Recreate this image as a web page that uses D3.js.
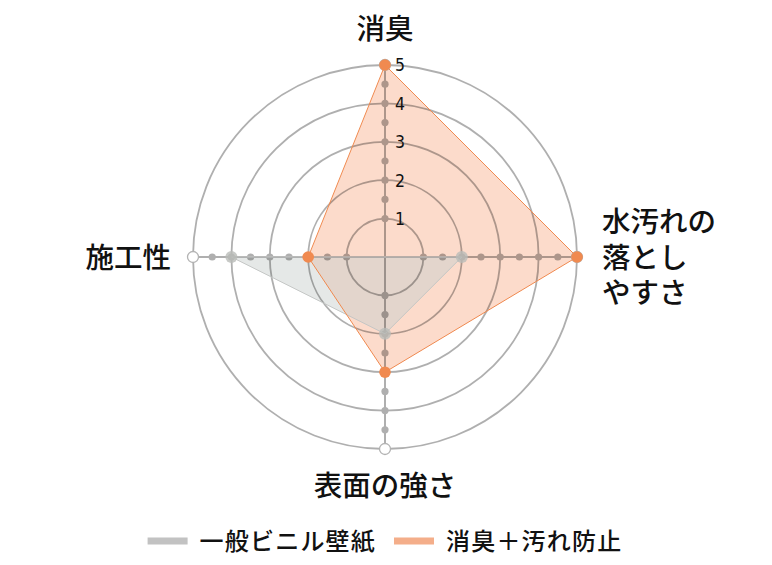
<!DOCTYPE html>
<html><head><meta charset="utf-8">
<script src="https://cdn.jsdelivr.net/npm/d3@7"></script>
<style>
html,body{margin:0;padding:0;background:#fff;}
text{font-family:"Noto Sans CJK JP","Noto Sans",sans-serif;}
</style></head>
<body>
<svg id="chart" width="772" height="565"></svg>
<script>
// ---- data ----
const axisNames = ["消臭", "水汚れの落としやすさ", "表面の強さ", "施工性"];
const axisLabelLines = [["消臭"], ["水汚れの", "落とし", "やすさ"], ["表面の強さ"], ["施工性"]];
const seriesNames = ["一般ビニル壁紙", "消臭＋汚れ防止"];
const vinylValues = [0, 2, 2, 4];
const deodorantValues = [5, 5, 3, 2];
const tickValues = [1, 2, 3, 4, 5];
const tickLabels = ["1", "2", "3", "4", "5"];
const maxValue = 5;

// ---- layout ----
const svg = d3.select("#chart");
const cx = 385, cy = 257, R = 192;
const r = d3.scaleLinear().domain([0, maxValue]).range([0, R]);
const angle = d3.scaleLinear().domain([0, axisNames.length]).range([0, 2 * Math.PI]);
const pt = (i, v) => [cx + r(v) * Math.sin(angle(i)), cy - r(v) * Math.cos(angle(i))];

const colors = {
  vinylFill: "#c9cfcc", vinylStroke: "#c4c6c5", vinylMarker: "#b9bbb8", vinylLegend: "#c2c2c2",
  deoFill: "#f7a47c", deoStroke: "#f08a50", deoMarker: "#f08a50", deoLegend: "#f4ae8a"
};

const line = d3.line().curve(d3.curveLinearClosed);

const series = [
  {name: seriesNames[0], values: vinylValues, fill: colors.vinylFill, fo: 0.48, stroke: colors.vinylStroke, marker: colors.vinylMarker},
  {name: seriesNames[1], values: deodorantValues, fill: colors.deoFill, fo: 0.4, stroke: colors.deoStroke, marker: colors.deoMarker}
];

const fills = svg.append("g");
[series[1], series[0]].forEach(s => {
  fills.append("path")
    .attr("d", line(s.values.map((v, i) => pt(i, v))))
    .attr("fill", s.fill).attr("fill-opacity", s.fo).attr("stroke", "none");
});

// grid (as one semi-transparent layer)
const grid = svg.append("g").attr("opacity", 0.31);
grid.selectAll("circle.ring").data(tickValues).join("circle")
  .attr("class", "ring").attr("cx", cx).attr("cy", cy).attr("r", d => r(d))
  .attr("fill", "none").attr("stroke", "#000").attr("stroke-width", 1.8);
grid.selectAll("line.axis").data(axisNames).join("line")
  .attr("class", "axis")
  .attr("x1", cx).attr("y1", cy)
  .attr("x2", (d, i) => pt(i, maxValue)[0]).attr("y2", (d, i) => pt(i, maxValue)[1])
  .attr("stroke", "#000").attr("stroke-width", 2);
const dotSteps = d3.range(1, maxValue + 0.001, 0.5);
axisNames.forEach((a, i) => {
  grid.selectAll(null).data(dotSteps).join("circle")
    .attr("cx", d => pt(i, d)[0]).attr("cy", d => pt(i, d)[1]).attr("r", 3.6)
    .attr("fill", "#000");
});

// outer end markers (white)
svg.append("g").selectAll("circle").data(axisNames).join("circle")
  .attr("cx", (d, i) => pt(i, maxValue)[0]).attr("cy", (d, i) => pt(i, maxValue)[1]).attr("r", 5.5)
  .attr("fill", "#fff").attr("stroke", "#b3b3b3").attr("stroke-width", 1.3);

// strokes
series.forEach(s => {
  svg.append("path")
    .attr("d", line(s.values.map((v, i) => pt(i, v))))
    .attr("fill", "none").attr("stroke", s.stroke).attr("stroke-width", 1);
});

// vertex markers
svg.append("g").selectAll("circle").data(vinylValues.map((v, i) => ({v, i})).filter(d => d.v > 0)).join("circle")
  .attr("cx", d => pt(d.i, d.v)[0]).attr("cy", d => pt(d.i, d.v)[1]).attr("r", 6)
  .attr("fill", colors.vinylMarker).attr("fill-opacity", 0.8);
svg.append("g").selectAll("circle").data(deodorantValues.map((v, i) => ({v, i})).filter(d => d.v > 0)).join("circle")
  .attr("cx", d => pt(d.i, d.v)[0]).attr("cy", d => pt(d.i, d.v)[1]).attr("r", 5.8)
  .attr("fill", colors.deoMarker);

// tick labels
svg.append("g").selectAll("text").data(tickValues).join("text")
  .attr("x", cx + 10).attr("y", d => cy - r(d))
  .attr("dy", "0.36em")
  .style("font-family", "'DejaVu Sans Condensed','DejaVu Sans',sans-serif")
  .style("font-stretch", "condensed")
  .attr("font-size", 17.5).attr("fill", "#111")
  .text((d, i) => tickLabels[i]);

// axis labels
const labelPos = [
  {x: cx, y: 29, anchor: "middle"},
  {x: 602, y: 222, anchor: "start"},
  {x: cx, y: 486, anchor: "middle"},
  {x: 171, y: 258, anchor: "end"}
];
const lineH = 35.5;
axisLabelLines.forEach((lines, i) => {
  const p = labelPos[i];
  const t = svg.append("text").attr("text-anchor", p.anchor).attr("font-size", 28.5)
    .attr("font-weight", 500).attr("fill", "#111");
  lines.forEach((l, j) => {
    t.append("tspan").attr("x", p.x).attr("y", p.y + j * lineH).attr("dy", "0.36em").text(l);
  });
});

// legend
const legend = svg.append("g");
const legendColors = [colors.vinylLegend, colors.deoLegend];
let x = 0;
seriesNames.forEach((n, i) => {
  const g = legend.append("g");
  g.append("rect").attr("x", x).attr("y", -3.5).attr("width", 40).attr("height", 7).attr("fill", legendColors[i]);
  const tx = g.append("text").attr("x", x + 52).attr("y", 0).attr("dy", "0.36em")
    .attr("font-size", 24).attr("font-weight", 500).attr("letter-spacing", 1.2).attr("fill", "#111").text(n);
  const w = tx.node().getComputedTextLength();
  x += 52 + w + 18;
});
const totalW = x - 18;
legend.attr("transform", `translate(${cx - totalW / 2},541)`);
</script>
</body></html>
